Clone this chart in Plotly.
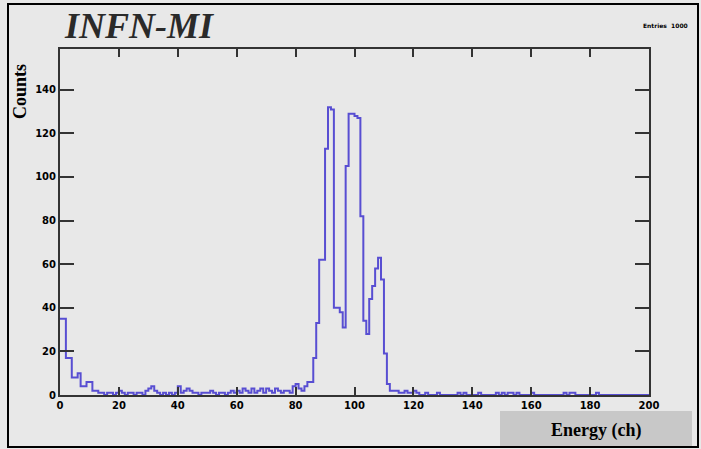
import plotly.graph_objects as go

# ---- data ----
channels = list(range(200))
counts = [
    35, 35, 17, 17, 8, 8, 10, 4, 4, 6, 6, 2,
    2, 1, 1, 0, 1, 1, 0, 1, 2, 1, 0, 1, 1, 0, 1, 1, 0, 2,
    3, 4, 2, 1, 0, 1, 0, 1, 0, 1,
    4, 1, 2, 3, 2, 1, 1, 0, 1, 1,
    1, 2, 1, 0, 1, 1, 0, 1, 2, 1,
    2, 1, 3, 2, 1, 3, 1, 2, 3, 1,
    3, 2, 1, 3, 2, 1, 2, 2, 1, 4,
    5, 3, 2, 4, 6, 6, 17, 33, 62, 62,
    113, 132, 131, 40, 40, 38, 31, 105, 129, 129,
    128, 127, 82, 34, 28, 44, 50, 58, 63, 53,
    19, 5, 2, 2, 2, 1, 1, 2, 1, 1,
    2, 1, 0, 0, 1, 0, 0, 0, 1, 0,
    0, 0, 0, 0, 0, 1, 0, 1, 0, 0,
    0, 0, 1, 0, 0, 0, 0, 0, 1, 0,
    1, 0, 1, 1, 0, 1, 0, 0, 0, 0,
    1, 0, 0, 0, 0, 0, 0, 0, 0, 0,
    0, 1, 0, 1, 1, 0, 0, 0, 0, 0,
    0, 0, 1, 0, 0, 0, 0, 0, 0, 0,
    0, 0, 0, 0, 0, 0, 0, 0, 0, 0,
]
x_ticks = [0, 20, 40, 60, 80, 100, 120, 140, 160, 180, 200]
y_ticks = [0, 20, 40, 60, 80, 100, 120, 140]
title_text = "INFN-MI"
entries_text = "Entries  1000"
x_label = "Energy (ch)"
y_label = "Counts"

W, H = 701, 449
L, R, T, B = 60, 649, 49, 395  # plot area in pixels


def px(xp):
    return (xp - L) / (R - L)


def py(yp):
    return (B - yp) / (B - T)


bg = "#e8e8e8"
line_col = "rgb(88,78,210)"

fig = go.Figure()
fig.add_trace(go.Scatter(
    x=channels + [200], y=counts + [counts[-1]],
    mode="lines", line=dict(shape="hv", color=line_col, width=2),
    hoverinfo="skip", showlegend=False,
))

tick_font = dict(family="DejaVu Sans", size=10, color="black", weight="bold")
fig.update_layout(
    width=W, height=H, autosize=False,
    margin=dict(l=L, r=W - R, t=T, b=H - B, pad=0),
    paper_bgcolor=bg, plot_bgcolor=bg,
    xaxis=dict(range=[0, 200], tickvals=x_ticks, ticks="inside", ticklen=8,
               tickwidth=2, tickcolor="#333", showline=True, linewidth=2,
               linecolor="#333", mirror="ticks", showgrid=False, zeroline=False,
               tickfont=tick_font, fixedrange=True),
    yaxis=dict(range=[0, 158.7], tickvals=y_ticks, ticks="inside", ticklen=14,
               tickwidth=2, tickcolor="#333", showline=True, linewidth=2,
               linecolor="#333", mirror="ticks", showgrid=False, zeroline=False,
               tickfont=tick_font, fixedrange=True),
    shapes=[
        # outer frame
        dict(type="rect", xref="paper", yref="paper",
             x0=px(8), x1=px(698), y0=py(447), y1=py(4),
             line=dict(color="black", width=2), layer="below"),
        # gray box behind x label
        dict(type="rect", xref="paper", yref="paper",
             x0=px(500), x1=px(692), y0=py(446), y1=py(411),
             fillcolor="#c8c8c8", line=dict(width=0), layer="below"),
    ],
    annotations=[
        dict(text=title_text, xref="paper", yref="paper", x=px(62), y=py(26),
             xanchor="left", yanchor="middle", showarrow=False,
             font=dict(family="Liberation Serif", size=36, color="#2a2a2a",
                       style="italic", weight="bold")),
        dict(text=entries_text, xref="paper", yref="paper", x=px(690), y=py(25),
             xanchor="right", yanchor="middle", showarrow=False,
             font=dict(family="DejaVu Sans", size=6, color="black", weight="bold")),
        dict(text=y_label, xref="paper", yref="paper", x=px(20), y=py(92),
             xanchor="center", yanchor="middle", showarrow=False, textangle=-90,
             font=dict(family="Liberation Serif", size=18, color="black",
                       weight="bold")),
        dict(text=x_label, xref="paper", yref="paper", x=px(596), y=py(430),
             xanchor="center", yanchor="middle", showarrow=False,
             font=dict(family="Liberation Serif", size=18, color="black",
                       weight="bold")),
    ],
)

fig.write_html("out.html", config={"displayModeBar": False},
               post_script="document.body.style.margin='0px';")
